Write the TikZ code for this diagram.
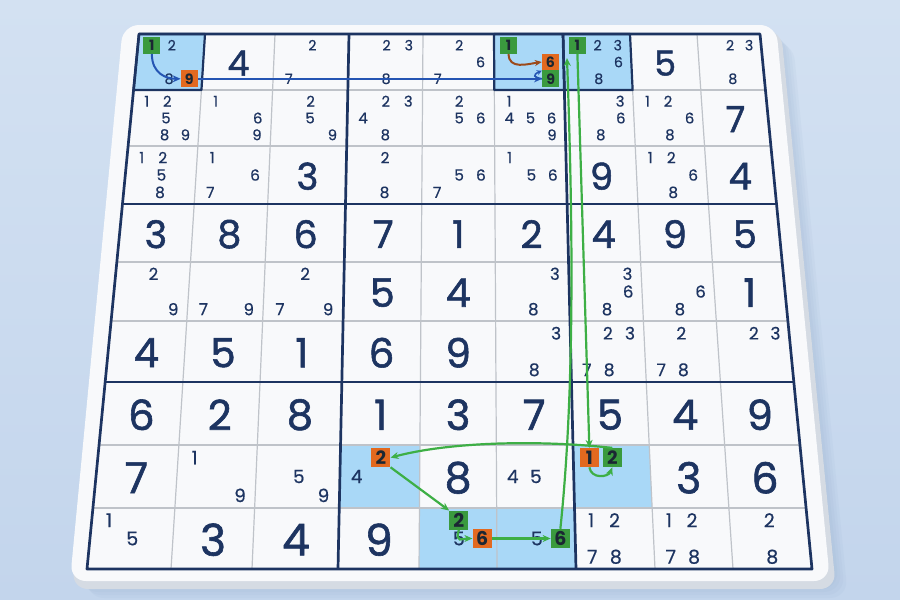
\documentclass[tikz,border=0pt]{standalone}
\usepackage{fontspec}
\setmainfont{Poppins}
\newfontfamily\bigfont{Poppins}[FakeBold=1.4]
\newfontfamily\candfont{Poppins}[FakeBold=0.5]
\usetikzlibrary{arrows.meta}
\definecolor{navy}{HTML}{1D3461}
\definecolor{gridgray}{HTML}{BFC3C9}
\definecolor{bgtop}{HTML}{D3E1F2}
\definecolor{bgbot}{HTML}{C3D5EC}
\definecolor{hlblue}{HTML}{A9D8F7}
\definecolor{gboxc}{HTML}{3A9A3E}
\definecolor{oboxc}{HTML}{E2691F}
\definecolor{boxtext}{HTML}{1B2733}
\definecolor{arrblue}{HTML}{2555B3}
\definecolor{arrbrown}{HTML}{9C4A1A}
\definecolor{arrgreen}{HTML}{3DAF45}
\definecolor{facec}{HTML}{F8F9FB}
\definecolor{edgec}{HTML}{D5DBE3}
\definecolor{shadowc}{HTML}{8FA8C8}
\def\XT{{139,205,275,349,423,494,563,630,697,760}}
\def\XB{{87,171,252,338,419,497,576,655,733,812}}
\def\YY{{34,90,146,204,262,321,382,445,508,569}}
\newcommand\cellpt[4]{%
 \pgfmathsetmacro\cpYa{\YY[\the\numexpr#2-1\relax]}%
 \pgfmathsetmacro\cpYb{\YY[#2]}%
 \pgfmathsetmacro\cpY{\cpYa+(\cpYb-\cpYa)*(#4)}%
 \pgfmathsetmacro\cpT{(\cpY-34)/535}%
 \pgfmathsetmacro\cpL{\XT[\the\numexpr#1-1\relax]+(\XB[\the\numexpr#1-1\relax]-\XT[\the\numexpr#1-1\relax])*\cpT}%
 \pgfmathsetmacro\cpR{\XT[#1]+(\XB[#1]-\XT[#1])*\cpT}%
 \pgfmathsetmacro\cpX{\cpL+(\cpR-\cpL)*(#3)}%
}
\newcommand\cand[4][]{%
 \pgfmathsetmacro\cfx{{0.21,0.51,0.81}[int(mod(#4-1,3))]}%
 \pgfmathsetmacro\cfy{{0.2,0.5,0.8}[int((#4-1)/3)]}%
 \cellpt{#3}{#2}{\cfx}{\cfy}%
 \pgfmathsetmacro\cfs{13.6+0.6*#2}%
 \node[cand,#1] (n#2#3#4) at (\cpX,\cpY) {\fontsize{\cfs}{\cfs}\selectfont #4};%
}
\newcommand\cands[3]{\foreach \dd in {#3}{\cand{#1}{#2}{\dd}}}
\newcommand\bigd[3]{%
 \cellpt{#2}{#1}{0.5}{0.52}%
 \pgfmathsetmacro\bgfs{33.5+1.15*#1}%
 \node[bigdig] (b#1#2) at (\cpX,\cpY) {\fontsize{\bgfs}{\bgfs}\selectfont #3};%
}
\newcommand\cellcorners[2]{%
 \cellpt{#2}{#1}{0}{0}\coordinate (hA) at (\cpX,\cpY);%
 \cellpt{#2}{#1}{1}{0}\coordinate (hB) at (\cpX,\cpY);%
 \cellpt{#2}{#1}{1}{1}\coordinate (hC) at (\cpX,\cpY);%
 \cellpt{#2}{#1}{0}{1}\coordinate (hD) at (\cpX,\cpY);%
}
\newcommand\hcell[2]{\cellcorners{#1}{#2}\fill[hlblue] (hA)--(hB)--(hC)--(hD)--cycle;}
\newcommand\ocell[2]{\cellcorners{#1}{#2}\draw[navy,line width=2.2pt,line join=round] (hA)--(hB)--(hC)--(hD)--cycle;}
\begin{document}
\begin{tikzpicture}[x=1pt,y=-1pt,
  cand/.style={text=navy,inner sep=0pt,font=\candfont},
  bigdig/.style={text=navy,inner sep=0pt,font=\bigfont},
  gbox/.style={fill=gboxc,text=boxtext,minimum size=17pt,inner sep=0pt,font=\bfseries},
  obox/.style={fill=oboxc,text=boxtext,minimum size=17pt,inner sep=0pt,font=\bfseries},
  thingrid/.style={gridgray,line width=1.2pt},
  thickgrid/.style={navy,line width=2.7pt},
  barr/.style={arrblue,line width=2pt,-{Stealth[length=8pt,width=7pt]}},
  brarr/.style={arrbrown,line width=2pt,-{Stealth[length=7pt,width=6pt]}},
  garr/.style={arrgreen,line width=2.2pt,-{Stealth[length=8pt,width=7pt]}}]
\useasboundingbox (0,0) rectangle (900,600);
\shade[top color=bgtop,bottom color=bgbot] (0,0) rectangle (900,600);
% soft board shadow
\foreach \s in {0,3,6,9,12}{
  \fill[shadowc,opacity=0.08,rounded corners=18pt] (128+\s,30+\s)--(781+\s,30+\s)--(836+\s,586+\s)--(74+\s,586+\s)--cycle;
}
% board thickness and face
\fill[edgec,rounded corners=16pt] (126,30)--(781,30)--(836,589)--(72,589)--cycle;
\fill[facec,rounded corners=16pt] (123,25)--(776,25)--(830,581)--(70,581)--cycle;
% highlighted cells
\hcell{1}{1}\hcell{1}{6}\hcell{1}{7}
\hcell{8}{4}\hcell{8}{7}\hcell{9}{5}\hcell{9}{6}
% thin grid
\foreach \i in {1,2,4,5,7,8}{
  \pgfmathsetmacro\xa{\XT[\i]}\pgfmathsetmacro\xb{\XB[\i]}
  \draw[thingrid] (\xa,34) -- (\xb,569);
}
\foreach \j in {1,2,4,5,7,8}{
  \pgfmathsetmacro\yy{\YY[\j]}
  \pgfmathsetmacro\xl{139-0.0972*(\yy-34)}
  \pgfmathsetmacro\xr{760+0.0972*(\yy-34)}
  \draw[thingrid] (\xl,\yy) -- (\xr,\yy);
}
% thick grid
\foreach \i in {3,6}{
  \pgfmathsetmacro\xa{\XT[\i]}\pgfmathsetmacro\xb{\XB[\i]}
  \draw[thickgrid] (\xa,34) -- (\xb,569);
}
\foreach \j in {3,6}{
  \pgfmathsetmacro\yy{\YY[\j]}
  \pgfmathsetmacro\xl{139-0.0972*(\yy-34)}
  \pgfmathsetmacro\xr{760+0.0972*(\yy-34)}
  \draw[thickgrid] (\xl,\yy) -- (\xr,\yy);
}
\draw[thickgrid,line join=round] (139,34)--(760,34)--(812,569)--(87,569)--cycle;
\ocell{1}{1}\ocell{1}{6}\ocell{1}{7}
% big digits
\bigd{1}{2}{4}\bigd{1}{8}{5}
\bigd{2}{9}{7}
\bigd{3}{3}{3}\bigd{3}{7}{9}\bigd{3}{9}{4}
\bigd{4}{1}{3}\bigd{4}{2}{8}\bigd{4}{3}{6}\bigd{4}{4}{7}\bigd{4}{5}{1}\bigd{4}{6}{2}\bigd{4}{7}{4}\bigd{4}{8}{9}\bigd{4}{9}{5}
\bigd{5}{4}{5}\bigd{5}{5}{4}\bigd{5}{9}{1}
\bigd{6}{1}{4}\bigd{6}{2}{5}\bigd{6}{3}{1}\bigd{6}{4}{6}\bigd{6}{5}{9}
\bigd{7}{1}{6}\bigd{7}{2}{2}\bigd{7}{3}{8}\bigd{7}{4}{1}\bigd{7}{5}{3}\bigd{7}{6}{7}\bigd{7}{7}{5}\bigd{7}{8}{4}\bigd{7}{9}{9}
\bigd{8}{1}{7}\bigd{8}{5}{8}\bigd{8}{8}{3}\bigd{8}{9}{6}
\bigd{9}{2}{3}\bigd{9}{3}{4}\bigd{9}{4}{9}
% candidates
\cands{1}{1}{2,8}
\cand[gbox]{1}{1}{1}\cand[obox]{1}{1}{9}
\cands{1}{3}{2,7}
\cands{1}{4}{2,3,8}
\cands{1}{5}{2,6,7}
\cand[gbox]{1}{6}{1}\cand[obox]{1}{6}{6}\cand[gbox]{1}{6}{9}
\cands{1}{7}{2,3,6,8}\cand[gbox]{1}{7}{1}
\cands{1}{9}{2,3,8}
\cands{2}{1}{1,2,5,8,9}
\cands{2}{2}{1,6,9}
\cands{2}{3}{2,5,9}
\cands{2}{4}{2,3,4,8}
\cands{2}{5}{2,5,6}
\cands{2}{6}{1,4,5,6,9}
\cands{2}{7}{3,6,8}
\cands{2}{8}{1,2,6,8}
\cands{3}{1}{1,2,5,8}
\cands{3}{2}{1,6,7}
\cands{3}{4}{2,8}
\cands{3}{5}{5,6,7}
\cands{3}{6}{1,5,6}
\cands{3}{8}{1,2,6,8}
\cands{5}{1}{2,9}
\cands{5}{2}{7,9}
\cands{5}{3}{2,7,9}
\cands{5}{6}{3,8}
\cands{5}{7}{3,6,8}
\cands{5}{8}{6,8}
\cands{6}{6}{3,8}
\cands{6}{7}{2,3,7,8}
\cands{6}{8}{2,7,8}
\cands{6}{9}{2,3}
\cands{8}{2}{1,9}
\cands{8}{3}{5,9}
\cand[obox,minimum size=19pt]{8}{4}{2}\cands{8}{4}{4}
\cands{8}{6}{4,5}
\cand[obox,minimum size=19pt]{8}{7}{1}\cand[gbox,minimum size=19pt]{8}{7}{2}
\cands{9}{1}{1,5}
\cands{9}{5}{5}
\cand[gbox,minimum size=19pt]{9}{5}{2}\cand[obox,minimum size=19pt]{9}{5}{6}
\cands{9}{6}{5}\cand[gbox,minimum size=19pt]{9}{6}{6}
\cands{9}{7}{1,2,7,8}
\cands{9}{8}{1,2,7,8}
\cands{9}{9}{2,8}
% arrows
\coordinate (aTop) at (567,58);
\draw[barr] (n111.south) .. controls +(0,20) and +(-14,0) .. (n119.west);
\draw[barr] (n119.east) -- (n169.west);
\draw[brarr] (n161.south) .. controls +(0,16) and +(-14,2) .. (n166.west);
\draw[arrblue,line width=1.6pt,-{Stealth[length=5pt,width=5pt]}] (n169.west) .. controls +(-9,-1) and +(-9,4) .. (n166.south west);
\draw[garr] (n966.north) .. controls (576,380) and (572,200) .. (aTop);
\draw[garr] (n171.south) -- (n871.north);
\draw[garr] (n872.north) .. controls +(-72,-8) and +(60,-16) .. (n842.east);
\draw[garr] (n842.south east) -- (n952.north west);
\draw[garr] (n952.south) .. controls +(-4,14) and +(-10,0) .. (n956.west);
\draw[garr] (n956.east) -- (n966.west);
\draw[garr] (n871.south) .. controls +(2,12) and +(-4,10) .. (n872.south);
\end{tikzpicture}
\end{document}
